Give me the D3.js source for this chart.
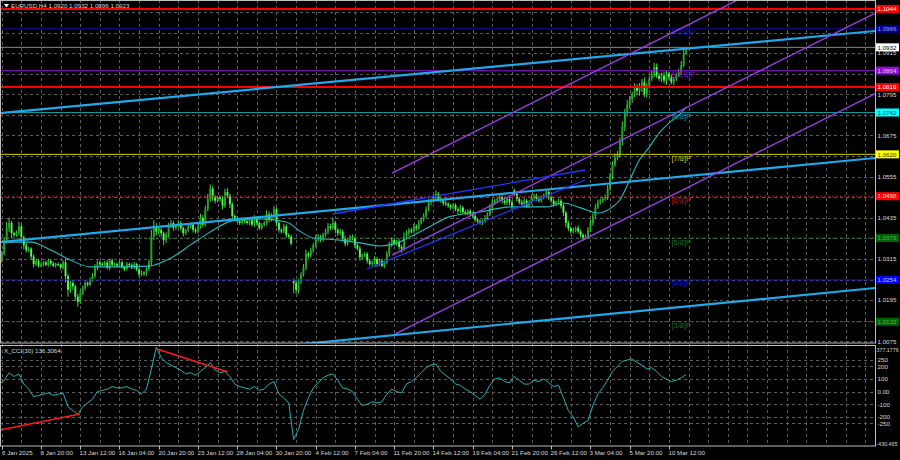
<!DOCTYPE html>
<html><head><meta charset="utf-8">
<script src="https://cdn.jsdelivr.net/npm/d3@7"></script>
<style>body{margin:0;background:#000;overflow:hidden}svg{display:block}</style>
</head><body>
<svg id="c" width="900" height="460"></svg>
<script>
// ===== DATA =====
const titleText = "EURUSD,H4  1.0920 1.0932 1.0896 1.0923";
const cciTitle = "X_CCI(30) 136.3064";
const firstOpen = 1.0305;
const gapOpens = {120: 1.0250, 210: 1.0515};
const closes = [
1.0310,1.0330,1.0368,1.0405,1.0420,1.0390, 1.0385,1.0392,1.0410,1.0378,1.0355,1.0340,
1.0345,1.0322,1.0300,1.0310,1.0295,1.0300, 1.0305,1.0298,1.0310,1.0302,1.0295,1.0300,
1.0298,1.0290,1.0305,1.0265,1.0225,1.0245,
1.0235,1.0205,1.0190,1.0215,1.0230,1.0245, 1.0240,1.0255,1.0265,1.0290,1.0305,1.0300,
1.0298,1.0305,1.0290,1.0310,1.0298,1.0300, 1.0295,1.0305,1.0292,1.0285,1.0300,1.0298,
1.0290,1.0300,1.0285,1.0270,1.0275,1.0272,
1.0285,1.0305,1.0380,1.0410,1.0395,1.0400, 1.0390,1.0370,1.0385,1.0410,1.0420,1.0405,
1.0412,1.0420,1.0405,1.0390,1.0398,1.0410, 1.0415,1.0400,1.0395,1.0410,1.0435,1.0415,
1.0460,1.0490,1.0520,1.0495,1.0485,1.0495,
1.0490,1.0470,1.0510,1.0500,1.0475,1.0440, 1.0435,1.0425,1.0420,1.0430,1.0425,1.0420,
1.0428,1.0415,1.0435,1.0420,1.0405,1.0415, 1.0420,1.0445,1.0430,1.0440,1.0460,1.0420,
1.0400,1.0395,1.0410,1.0385,1.0380,1.0360,
1.0245,1.0225,1.0250,1.0270,1.0290,1.0330, 1.0325,1.0340,1.0355,1.0375,1.0380,1.0372,
1.0385,1.0395,1.0410,1.0405,1.0420,1.0400, 1.0390,1.0395,1.0375,1.0360,1.0370,1.0380,
1.0375,1.0355,1.0345,1.0320,1.0325,1.0330,
1.0310,1.0300,1.0305,1.0315,1.0300,1.0310, 1.0295,1.0305,1.0330,1.0355,1.0370,1.0360,
1.0365,1.0350,1.0345,1.0380,1.0390,1.0400, 1.0395,1.0410,1.0405,1.0420,1.0430,1.0440,
1.0460,1.0480,1.0485,1.0495,1.0505,1.0490,
1.0485,1.0478,1.0475,1.0470,1.0465,1.0472, 1.0460,1.0455,1.0465,1.0452,1.0448,1.0455,
1.0445,1.0440,1.0430,1.0425,1.0420,1.0425, 1.0435,1.0445,1.0465,1.0480,1.0485,1.0490,
1.0495,1.0485,1.0478,1.0490,1.0480,1.0470,
1.0505,1.0490,1.0480,1.0475,1.0485,1.0470, 1.0480,1.0495,1.0500,1.0490,1.0485,1.0495,
1.0500,1.0510,1.0495,1.0485,1.0475,1.0480, 1.0485,1.0470,1.0450,1.0420,1.0405,1.0395,
1.0400,1.0405,1.0395,1.0385,1.0378,1.0380,
1.0400,1.0420,1.0440,1.0465,1.0480,1.0485, 1.0490,1.0495,1.0520,1.0555,1.0590,1.0610,
1.0620,1.0655,1.0700,1.0740,1.0765,1.0780, 1.0795,1.0815,1.0805,1.0820,1.0830,1.0795,
1.0820,1.0840,1.0855,1.0875,1.0850,1.0840,
1.0850,1.0835,1.0855,1.0845,1.0830,1.0840, 1.0850,1.0860,1.0880,1.0915,1.0923
];
const upWick = [
4,8,12,18,16,6, 5,6,14,8,5,6, 5,4,6,5,4,6, 4,5,6,4,5,4, 5,4,6,10,8,6,
6,5,8,10,6,5, 4,6,8,10,6,5, 6,5,8,5,6,4, 5,6,5,4,6,5, 5,6,4,5,6,4,
5,8,20,18,10,6, 6,5,8,10,8,6, 5,8,6,5,6,8, 6,5,6,8,12,8, 10,14,12,8,6,5,
6,8,10,12,6,5, 5,6,5,6,5,6, 5,6,8,5,6,5, 6,12,8,8,10,6, 6,5,8,6,5,6,
8,10,8,6,10,12, 6,8,6,10,8,6, 6,8,10,8,16,6, 5,8,6,8,6,5, 6,5,6,8,5,6,
5,6,5,8,6,5, 6,5,8,10,8,6, 6,8,6,12,8,6, 6,8,6,8,6,8, 8,10,6,8,10,6,
6,5,8,6,5,6, 5,6,8,5,6,5, 6,5,6,5,6,5, 8,6,10,8,6,5, 6,5,8,6,5,6,
5,6,5,8,6,5, 6,8,6,5,8,6, 6,8,6,5,6,5, 6,5,6,5,6,5, 6,5,8,6,5,6,
8,10,8,10,8,6, 6,8,10,12,10,12, 10,14,16,12,14,10, 8,12,10,8,10,14, 8,10,8,12,10,8,
8,10,8,6,8,6, 8,10,12,10,9
];
const dnWick = [
5,6,4,8,12,14, 6,5,8,10,12,6, 5,8,10,6,5,4, 6,4,5,6,4,5, 4,6,5,18,20,8,
10,12,14,6,5,6, 5,4,5,6,8,6, 5,6,5,8,5,6, 4,5,6,5,4,6, 5,4,6,8,5,6,
6,5,8,10,12,8, 10,14,8,6,5,8, 6,5,8,10,6,5, 5,8,6,5,6,8, 5,6,8,10,8,6,
8,10,6,8,12,10, 6,5,6,5,6,5, 6,5,6,8,6,5, 5,6,8,6,8,10, 8,6,5,8,6,5,
30,12,10,8,6,8, 8,6,8,6,10,8, 6,5,8,6,5,10, 8,6,10,8,6,5, 6,8,6,10,6,5,
8,6,5,6,8,6, 5,6,5,8,6,5, 6,8,12,6,5,8, 6,5,8,6,5,6, 6,5,8,6,5,8,
6,8,5,6,8,5, 6,8,5,6,5,6, 5,6,8,6,5,6, 5,6,5,6,8,6, 6,8,5,6,8,10,
6,8,6,5,8,6, 5,6,8,6,5,6, 6,5,8,6,8,6, 6,8,10,12,8,6, 6,8,6,8,10,6,
8,6,8,6,5,6, 6,5,8,6,8,6, 8,10,8,12,10,12, 10,8,12,14,18,8, 10,8,6,10,8,6,
10,8,12,8,6,8, 6,5,8,6,5
];
// moving average, read at sample bars
const maBars = [0,13,21,29,37,49,61,70,78,86,95,106,117,123,128,139,147,155,161,169,176,183,196,209,223,230,237,244,250,253,257,261,265,269,273,278,280];
const maVals = [1.0364,1.0364,1.0341,1.0312,1.0292,1.0292,1.0294,1.0318,1.0356,1.0394,1.0426,1.0432,1.0423,1.0394,1.0376,1.0370,1.0362,1.0353,1.0359,1.0385,1.0411,1.0437,1.0452,1.0467,1.0467,1.0478,1.0464,1.0449,1.0467,1.0487,1.0545,1.0604,1.0641,1.0682,1.0711,1.0741,1.0758];
// CCI(30), one value every 2 bars starting at bar 0
const cciVals = [
60,90,150,120,140,60,20,-40,-30,-20,-10,-30,-20,-10,-120,-150,-180,-120,-90,-60,
0,10,20,40,30,30,40,20,10,-20,20,180,350,270,230,210,190,170,140,150,
130,160,190,230,170,150,160,120,60,40,30,20,40,10,20,60,80,-20,-50,-90,
-380,-300,-150,-50,30,70,110,130,140,90,30,20,0,-60,-110,-100,-80,-90,-80,-20,
20,0,-10,60,80,110,150,190,210,220,160,130,100,60,50,20,0,-30,-60,-20,
50,100,110,80,70,120,90,60,60,90,80,100,70,40,50,-50,-150,-200,-280,-250,
-230,-110,-20,30,90,160,200,240,250,260,230,210,180,190,160,120,100,80,90,110,136
];
const priceTicks = [1.1035,1.0975,1.0915,1.0855,1.0795,1.0735,1.0675,1.0615,1.0555,1.0495,1.0435,1.0375,1.0315,1.0255,1.0195,1.0135,1.0075];
const cciTicks = [250,200,100,0,-100,-200,-250];
const cciTickLabels = ["250","200","100","0.00","-100","-200","-250"];
const cciMax = 377.1776, cciMin = -430.465;
const timeLabelBars = [1,17,33,49,65,81,97,113,129,145,161,177,193,209,225,241,257,273];
const timeLabels = ["6 Jan 2025","8 Jan 20:00","13 Jan 12:00","16 Jan 04:00","20 Jan 20:00","23 Jan 12:00","28 Jan 04:00","30 Jan 20:00","4 Feb 12:00","7 Feb 04:00","11 Feb 20:00","14 Feb 12:00","19 Feb 04:00","21 Feb 20:00","26 Feb 12:00","3 Mar 04:00","5 Mar 20:00","10 Mar 12:00"];
// horizontal levels
const redLevels = [1.1044, 1.0816];
const bidLevel = 1.0932;
const murreyVals = [1.0986,1.0864,1.0742,1.0620,1.0498,1.0376,1.0254,1.0132];
const murreyNames = ["[+2/8]P","[+1/8]P","[8/8]P","[7/8]P","[6/8]P","[5/8]P","[4/8]P","[3/8]P"];
// trend lines: [bar1, price1, bar2, price2]
const skyTrends = [[0.3,1.07405,357,1.09796],[0.3,1.03644,357,1.06093],[126.7,1.00691,357,1.02303]];
const purpleRays = [[160.1,1.05656,357,1.12705],[160.1,1.03265,357,1.10314],[161.3,1.00962,357,1.07968]];
const blueSegs = [[136,1.04461,238.8,1.05744],[149.9,1.02857,238.8,1.05452]];
const cciRedSegs = [[0.3,-303.8,32.9,-177],[64.3,337.6,93.2,155.5]];

// ===== LAYOUT / STYLE =====
const plotR = 875, mainTop = 0, mainBot = 343, cciTop = 344, cciBot = 446;
const font = "Liberation Sans, Arial, sans-serif";
const fs = 6.2;
const txtCol = "#d8d8d8";
const gridCol = "#5c5c5c";
const murreyStyle = [
 {c:"#10109a", d:null, box:"#00008b", t:"#8f9fff"},
 {c:"#8a10c8", d:null, box:"#8e12d0", t:"#e0c0ff"},
 {c:"#0a9a9a", d:null, box:"#00ffff", t:"#004040"},
 {c:"#d2d200", d:null, box:"#ffff00", t:"#303000"},
 {c:"#b01818", d:"2,2", box:"#ff0000", t:"#ffd0d0"},
 {c:"#1f6f1f", d:"2,2", box:"#006400", t:"#50b050"},
 {c:"#1010e0", d:null, box:"#0000ff", t:"#c0c8ff"},
 {c:"#1f6f1f", d:"2,2", box:"#006400", t:"#50b050"}
];

const svg = d3.select("#c");
svg.append("rect").attr("width",900).attr("height",460).attr("fill","#000");
const defs = svg.append("defs");
defs.append("clipPath").attr("id","cm").append("rect").attr("x",0).attr("y",mainTop).attr("width",plotR).attr("height",mainBot-mainTop);
defs.append("clipPath").attr("id","cc").append("rect").attr("x",0).attr("y",cciTop).attr("width",plotR).attr("height",cciBot-cciTop);

const x = d3.scaleLinear().domain([0,280]).range([-0.7,686.1]);
const y = d3.scaleLinear().domain([1.0070,1.1070]).range([mainBot,mainTop]);
const yc = d3.scaleLinear().domain([cciMin,cciMax]).range([cciBot,cciTop]);

const gM = svg.append("g").attr("clip-path","url(#cm)");
const gC = svg.append("g").attr("clip-path","url(#cc)");

// vertical grid (every 8 bars)
const lastBar = x.invert(plotR);
const vg = d3.range(1, lastBar, 8);
[gM, gC].forEach((g,k)=>{
  g.selectAll("line.vg").data(vg).enter().append("line")
   .attr("x1",d=>Math.round(x(d))+0.5).attr("x2",d=>Math.round(x(d))+0.5)
   .attr("y1",k?cciTop:mainTop).attr("y2",k?cciBot:mainBot)
   .attr("stroke",gridCol).attr("stroke-width",1).attr("stroke-dasharray","3,3");
});
gM.selectAll("line.hg").data(priceTicks).enter().append("line")
 .attr("x1",0).attr("x2",plotR).attr("y1",d=>Math.round(y(d))+0.5).attr("y2",d=>Math.round(y(d))+0.5)
 .attr("stroke",gridCol).attr("stroke-dasharray","3,3");
gC.selectAll("line.hg").data(cciTicks).enter().append("line")
 .attr("x1",0).attr("x2",plotR).attr("y1",d=>Math.round(yc(d))+0.5).attr("y2",d=>Math.round(yc(d))+0.5)
 .attr("stroke",gridCol).attr("stroke-dasharray","3,3");

// candles
const bars = closes.map((c,i)=>{
  const o = i===0 ? firstOpen : (gapOpens[i] !== undefined ? gapOpens[i] : closes[i-1]);
  const hi = Math.max(o,c) + upWick[i]/10000;
  const lo = Math.min(o,c) - dnWick[i]/10000;
  return {i,o,c,hi,lo};
});
const cg = gM.append("g");
cg.selectAll("line.w").data(bars).enter().append("line")
 .attr("x1",d=>x(d.i)).attr("x2",d=>x(d.i)).attr("y1",d=>y(d.hi)).attr("y2",d=>y(d.lo))
 .attr("stroke","#46f046").attr("stroke-width",0.9);
cg.selectAll("rect.b").data(bars).enter().append("rect")
 .attr("x",d=>x(d.i)-0.95).attr("width",1.9)
 .attr("y",d=>y(Math.max(d.o,d.c)))
 .attr("height",d=>Math.max(1, y(Math.min(d.o,d.c))-y(Math.max(d.o,d.c))))
 .attr("fill",d=>d.c>=d.o?"#22a822":"#50fa50");

// MA
gM.append("path").datum(maBars.map((b,k)=>[b,maVals[k]]))
 .attr("d",d3.line().x(d=>x(d[0])).y(d=>y(d[1])).curve(d3.curveMonotoneX))
 .attr("fill","none").attr("stroke","#27baba").attr("stroke-width",1.1);

// horizontal levels
murreyVals.forEach((v,k)=>{
  const s = murreyStyle[k];
  gM.append("line").attr("x1",0).attr("x2",plotR).attr("y1",y(v)).attr("y2",y(v))
   .attr("stroke",s.c).attr("stroke-width",1).attr("stroke-dasharray",s.d);
  gM.append("text").attr("x",x(274)).attr("y",y(v)+6.5).text(murreyNames[k])
   .attr("fill",s.c).attr("font-family",font).attr("font-size",7.5);
});
gM.append("line").attr("x1",0).attr("x2",plotR).attr("y1",y(bidLevel)).attr("y2",y(bidLevel))
 .attr("stroke","#8a8a8a").attr("stroke-width",1);
redLevels.forEach(v=>{
  gM.append("line").attr("x1",0).attr("x2",plotR).attr("y1",y(v)).attr("y2",y(v))
   .attr("stroke","#ff0000").attr("stroke-width",2);
});

// trend lines
function lineAt(t, b){ return t[1] + (t[3]-t[1])*(b-t[0])/(t[2]-t[0]); }
const bL = x.invert(-5), bR = x.invert(plotR+5);
skyTrends.forEach(t=>{
  gM.append("line").attr("x1",x(bL)).attr("y1",y(lineAt(t,bL))).attr("x2",x(bR)).attr("y2",y(lineAt(t,bR)))
   .attr("stroke","#1fa8ea").attr("stroke-width",2.2);
});
purpleRays.forEach(t=>{
  gM.append("line").attr("x1",x(t[0])).attr("y1",y(t[1])).attr("x2",x(bR)).attr("y2",y(lineAt(t,bR)))
   .attr("stroke","#9b3fe8").attr("stroke-width",1.4);
});
blueSegs.forEach(t=>{
  gM.append("line").attr("x1",x(t[0])).attr("y1",y(t[1])).attr("x2",x(t[2])).attr("y2",y(t[3]))
   .attr("stroke","#2434ff").attr("stroke-width",1.3);
});

// CCI
gC.append("path").datum(cciVals.map((v,k)=>[k*2,v]))
 .attr("d",d3.line().x(d=>x(d[0])).y(d=>yc(d[1])))
 .attr("fill","none").attr("stroke","#22b4b0").attr("stroke-width",1);
cciRedSegs.forEach(t=>{
  gC.append("line").attr("x1",x(t[0])).attr("y1",yc(t[1])).attr("x2",x(t[2])).attr("y2",yc(t[3]))
   .attr("stroke","#ff1a1a").attr("stroke-width",1.4);
});

// frames
const fr = svg.append("g").attr("fill","none").attr("stroke","#bdbdbd").attr("stroke-width",1);
fr.append("rect").attr("x",0.5).attr("y",0.5).attr("width",plotR).attr("height",mainBot-0.5);
fr.append("rect").attr("x",0.5).attr("y",cciTop+1.5).attr("width",plotR).attr("height",cciBot-cciTop-1.5);

// right price axis labels (ticks hidden under a level box are skipped)
const boxVals = murreyVals.concat([bidLevel], redLevels);
const ax = svg.append("g").attr("font-family",font).attr("font-size",fs).attr("fill",txtCol);
priceTicks.forEach(v=>{
  const hidden = boxVals.some(b=>Math.abs(y(b)-y(v))<4);
  if(hidden) return;
  ax.append("text").attr("x",plotR+2.5).attr("y",y(v)+2.3).text(v.toFixed(4));
});
function boxLabel(v, fill, tc){
  const yy = y(v);
  svg.append("rect").attr("x",plotR+1).attr("y",yy-4).attr("width",23).attr("height",8).attr("fill",fill);
  svg.append("text").attr("x",plotR+2.5).attr("y",yy+2.2).text(v.toFixed(4))
   .attr("font-family",font).attr("font-size",fs).attr("fill",tc);
}
murreyVals.forEach((v,k)=>boxLabel(v, murreyStyle[k].box, murreyStyle[k].t));
boxLabel(bidLevel, "#ffffff", "#000000");
redLevels.forEach(v=>boxLabel(v, "#ff0000", "#ffffff"));

// CCI axis labels
cciTicks.forEach((v,k)=>{
  ax.append("text").attr("x",plotR+2.5).attr("y",yc(v)+2.3).text(cciTickLabels[k]);
});
ax.append("text").attr("x",plotR+1.5).attr("y",cciTop+7.5).text(cciMax.toFixed(4)).attr("font-size",5.3);
ax.append("text").attr("x",plotR+1.5).attr("y",cciBot-0.5).text(cciMin.toFixed(3)).attr("font-size",5.3);

// time axis
timeLabelBars.forEach((b,k)=>{
  const xx = Math.round(x(b))+0.5;
  svg.append("line").attr("x1",xx).attr("x2",xx).attr("y1",cciBot).attr("y2",cciBot+3.5).attr("stroke","#bdbdbd");
  svg.append("text").attr("x",Math.max(2,xx-1)).attr("y",455).text(timeLabels[k])
   .attr("font-family",font).attr("font-size",fs).attr("fill",txtCol);
});

// titles
svg.append("path").attr("d","M4,4 L9,4 L6.5,7.5 Z").attr("fill","#ffffff");
svg.append("text").attr("x",11).attr("y",7.5).text(titleText).attr("font-family",font).attr("font-size",fs).attr("fill",txtCol);
svg.append("text").attr("x",4).attr("y",cciTop+9).text(cciTitle).attr("font-family",font).attr("font-size",fs).attr("fill",txtCol);
</script>
</body></html>
